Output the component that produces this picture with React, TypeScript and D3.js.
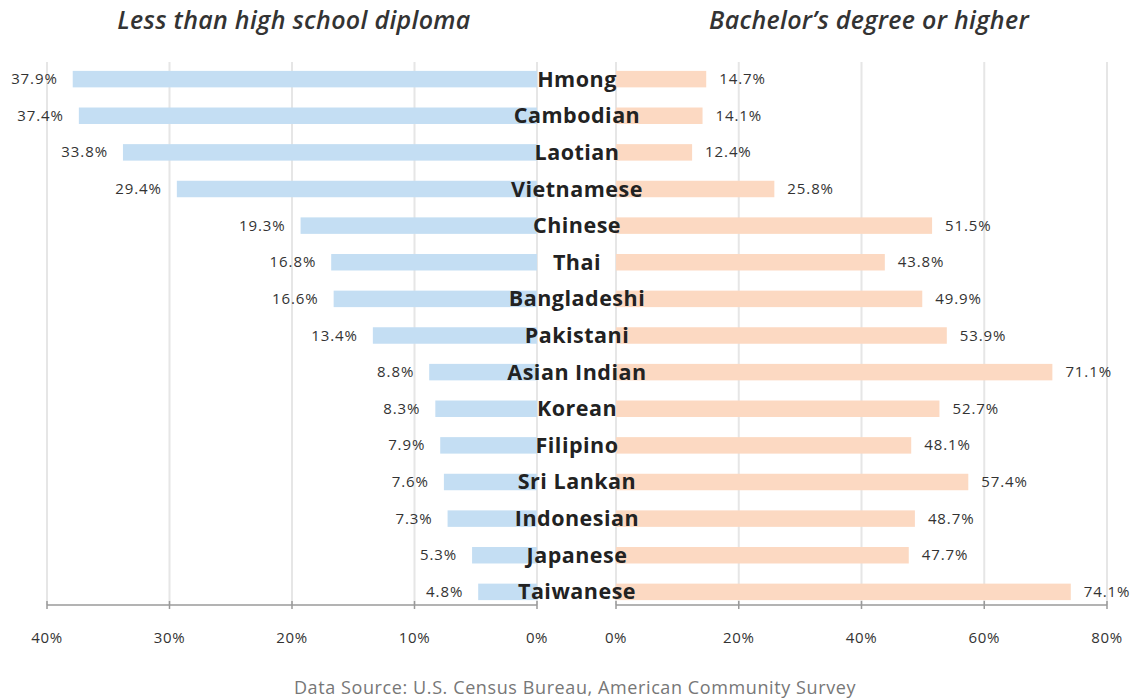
import * as d3 from "d3";

/* ------------------------------------------------------------------ */
/*  Data                                                               */
/* ------------------------------------------------------------------ */

const GROUPS = [
  "Hmong",
  "Cambodian",
  "Laotian",
  "Vietnamese",
  "Chinese",
  "Thai",
  "Bangladeshi",
  "Pakistani",
  "Asian Indian",
  "Korean",
  "Filipino",
  "Sri Lankan",
  "Indonesian",
  "Japanese",
  "Taiwanese",
];

const LESS_THAN_HS = [37.9, 37.4, 33.8, 29.4, 19.3, 16.8, 16.6, 13.4, 8.8, 8.3, 7.9, 7.6, 7.3, 5.3, 4.8];
const BACHELORS = [14.7, 14.1, 12.4, 25.8, 51.5, 43.8, 49.9, 53.9, 71.1, 52.7, 48.1, 57.4, 48.7, 47.7, 74.1];

const LEFT_TICKS = [40, 30, 20, 10, 0];
const RIGHT_TICKS = [0, 20, 40, 60, 80];

const LEFT_TITLE = "Less than high school diploma";
const RIGHT_TITLE = "Bachelor\u2019s degree or higher";
const SOURCE = "Data Source: U.S. Census Bureau, American Community Survey";

/* ------------------------------------------------------------------ */
/*  Theme                                                              */
/* ------------------------------------------------------------------ */

const W = 1146;
const H = 700;
const BLUE = "#c4def3";
const ORANGE = "#fcd9c2";
const GRID = "#e6e6e6";
const AXIS = "#9a9a9a";
const TEXT = "#333333";
const FONT = "'Open Sans', 'DejaVu Sans', sans-serif";

export default function App() {
  const xLeft = d3.scaleLinear().domain([0, 40]).range([537, 47]);
  const xRight = d3.scaleLinear().domain([0, 80]).range([616, 1107]);
  const y = d3
    .scaleBand<string>()
    .domain(GROUPS)
    .range([61, 610])
    .paddingInner(0.55)
    .paddingOuter(0.27);

  const gridTop = 62;
  const axisY = 605;
  const bw = y.bandwidth();

  return (
    <svg
      width={W}
      height={H}
      style={{ position: "absolute", left: 0, top: 0, background: "#fff" }}
      fontFamily={FONT}
    >
      {/* Titles */}
      <text x={294} y={29} textAnchor="middle" fontSize={25} fontStyle="italic" fontWeight={600} fill={TEXT} letterSpacing={0.3}>
        {LEFT_TITLE}
      </text>
      <text x={869} y={29} textAnchor="middle" fontSize={25} fontStyle="italic" fontWeight={600} fill={TEXT} letterSpacing={0.3}>
        {RIGHT_TITLE}
      </text>

      {/* Gridlines */}
      {LEFT_TICKS.map((t) => (
        <line key={`gl${t}`} x1={xLeft(t)} x2={xLeft(t)} y1={gridTop} y2={axisY} stroke={GRID} strokeWidth={2} />
      ))}
      {RIGHT_TICKS.map((t) => (
        <line key={`gr${t}`} x1={xRight(t)} x2={xRight(t)} y1={gridTop} y2={axisY} stroke={GRID} strokeWidth={2} />
      ))}

      {/* Bars */}
      {GROUPS.map((g, i) => {
        const yy = y(g)!;
        const l = LESS_THAN_HS[i];
        const r = BACHELORS[i];
        return (
          <g key={g}>
            <rect x={xLeft(l)} y={yy} width={xLeft(0) - xLeft(l)} height={bw} fill={BLUE} />
            <rect x={xRight(0)} y={yy} width={xRight(r) - xRight(0)} height={bw} fill={ORANGE} />
            <text x={xLeft(l) - 15} y={yy + bw / 2 + 5} textAnchor="end" fontSize={15} letterSpacing={0.9} fill={TEXT}>
              {`${l.toFixed(1)}%`}
            </text>
            <text x={xRight(r) + 13} y={yy + bw / 2 + 5} textAnchor="start" fontSize={15} letterSpacing={0.9} fill={TEXT}>
              {`${r.toFixed(1)}%`}
            </text>
            <text x={577} y={yy + bw / 2 + 7.5} textAnchor="middle" fontSize={21.5} fontWeight={700} letterSpacing={0.5} fill="#222">
              {g}
            </text>
          </g>
        );
      })}

      {/* Axes */}
      <line x1={xLeft(40)} x2={xLeft(0)} y1={axisY} y2={axisY} stroke={AXIS} strokeWidth={1.5} />
      <line x1={xRight(0)} x2={xRight(80)} y1={axisY} y2={axisY} stroke={AXIS} strokeWidth={1.5} />
      {LEFT_TICKS.map((t) => (
        <g key={`tl${t}`}>
          <line x1={xLeft(t)} x2={xLeft(t)} y1={axisY - 4} y2={axisY + 4} stroke={AXIS} strokeWidth={1.5} />
          <text x={xLeft(t)} y={643} textAnchor="middle" fontSize={15} letterSpacing={0.6} fill={TEXT}>{`${t}%`}</text>
        </g>
      ))}
      {RIGHT_TICKS.map((t) => (
        <g key={`tr${t}`}>
          <line x1={xRight(t)} x2={xRight(t)} y1={axisY - 4} y2={axisY + 4} stroke={AXIS} strokeWidth={1.5} />
          <text x={xRight(t)} y={643} textAnchor="middle" fontSize={15} letterSpacing={0.6} fill={TEXT}>{`${t}%`}</text>
        </g>
      ))}

      {/* Source */}
      <text x={575} y={694} textAnchor="middle" fontSize={18} letterSpacing={0.6} fill="#777">
        {SOURCE}
      </text>
    </svg>
  );
}
